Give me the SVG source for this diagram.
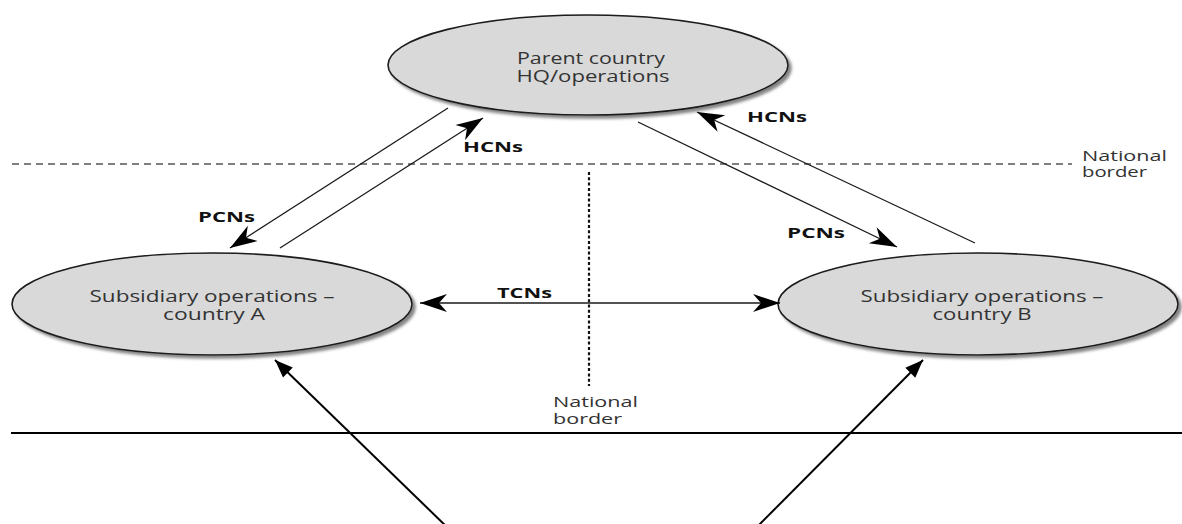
<svg xmlns="http://www.w3.org/2000/svg" width="1182" height="524" viewBox="0 0 1182 524">
<style>
.node{fill:#d9d9d9;stroke:#1a1a1a;stroke-width:1.6;filter:url(#sh)}
.t{font-family:"Open Sans","Noto Sans",sans-serif;font-size:16px;fill:#333;text-anchor:middle}
.b{font-family:"Open Sans","Noto Sans",sans-serif;font-size:14px;font-weight:bold;fill:#111}
.nb{font-family:"Open Sans","Noto Sans",sans-serif;font-size:15px;fill:#333}
.thin{stroke:#1a1a1a;stroke-width:1.3;fill:none}
.thick{stroke:#000;stroke-width:2;fill:none}
</style>
<defs>
<filter id="sh" x="-10%" y="-20%" width="125%" height="150%">
<feDropShadow dx="3" dy="3" stdDeviation="1.5" flood-color="#777" flood-opacity="0.9"/>
</filter>
<marker id="barb" markerUnits="userSpaceOnUse" markerWidth="30" markerHeight="20" viewBox="-28 -10 30 20" refX="0" refY="0" orient="auto-start-reverse">
<path d="M0,0 L-27,-9 L-19,0 L-27,9 Z" fill="#000"/>
</marker>
<marker id="tri" markerUnits="userSpaceOnUse" markerWidth="20" markerHeight="16" viewBox="-19 -8 20 16" refX="0" refY="0" orient="auto">
<path d="M0,0 L-18,-7 L-18,7 Z" fill="#000"/>
</marker>
</defs>
<rect width="1182" height="524" fill="#fff"/>
<g id="borders">
<line x1="12" y1="164" x2="1072" y2="164" stroke="#555" stroke-width="1.3" stroke-dasharray="7,5"/>
<line x1="589" y1="172" x2="589" y2="386" stroke="#111" stroke-width="2.2" stroke-dasharray="3,2.3"/>
<line x1="11" y1="433" x2="1182" y2="433" stroke="#000" stroke-width="2"/>
<text class="nb"><tspan x="1082" y="161" textLength="85" lengthAdjust="spacingAndGlyphs">National</tspan><tspan x="1082" y="177" textLength="65" lengthAdjust="spacingAndGlyphs">border</tspan></text>
<text class="nb"><tspan x="553" y="407" textLength="85" lengthAdjust="spacingAndGlyphs">National</tspan><tspan x="553" y="424" textLength="69" lengthAdjust="spacingAndGlyphs">border</tspan></text>
</g>
<g id="parent">
<ellipse class="node" cx="588" cy="65" rx="200" ry="50"/>
<text class="t"><tspan x="591" y="64" textLength="148" lengthAdjust="spacingAndGlyphs">Parent country</tspan><tspan x="593" y="82" textLength="153" lengthAdjust="spacingAndGlyphs">HQ/operations</tspan></text>
</g>
<g id="subA">
<ellipse class="node" cx="212" cy="304" rx="200" ry="51"/>
<text class="t"><tspan x="212" y="302" textLength="245" lengthAdjust="spacingAndGlyphs">Subsidiary operations –</tspan><tspan x="214" y="320" textLength="102" lengthAdjust="spacingAndGlyphs">country A</tspan></text>
</g>
<g id="subB">
<ellipse class="node" cx="978" cy="304" rx="200" ry="51"/>
<text class="t"><tspan x="982" y="302" textLength="243" lengthAdjust="spacingAndGlyphs">Subsidiary operations –</tspan><tspan x="982" y="320" textLength="99" lengthAdjust="spacingAndGlyphs">country B</tspan></text>
</g>
<g id="connectors">
<line class="thin" x1="448" y1="108" x2="230" y2="248" marker-end="url(#barb)"/>
<line class="thin" x1="280" y1="248" x2="483" y2="118" marker-end="url(#barb)"/>
<line class="thin" x1="638" y1="122" x2="897" y2="247" marker-end="url(#barb)"/>
<line class="thin" x1="975" y1="243" x2="697" y2="112" marker-end="url(#barb)"/>
<line class="thin" x1="420" y1="303" x2="780" y2="303" marker-start="url(#barb)" marker-end="url(#barb)"/>
<line class="thick" x1="450" y1="530" x2="275" y2="360" marker-end="url(#tri)"/>
<line class="thick" x1="754" y1="530" x2="923" y2="360" marker-end="url(#tri)"/>
<text class="b" x="198" y="222" textLength="57" lengthAdjust="spacingAndGlyphs">PCNs</text>
<text class="b" x="463" y="152" textLength="60" lengthAdjust="spacingAndGlyphs">HCNs</text>
<text class="b" x="787" y="238" textLength="58" lengthAdjust="spacingAndGlyphs">PCNs</text>
<text class="b" x="747" y="122" textLength="60" lengthAdjust="spacingAndGlyphs">HCNs</text>
<text class="b" x="497" y="298" textLength="55" lengthAdjust="spacingAndGlyphs">TCNs</text>
</g>
</svg>
